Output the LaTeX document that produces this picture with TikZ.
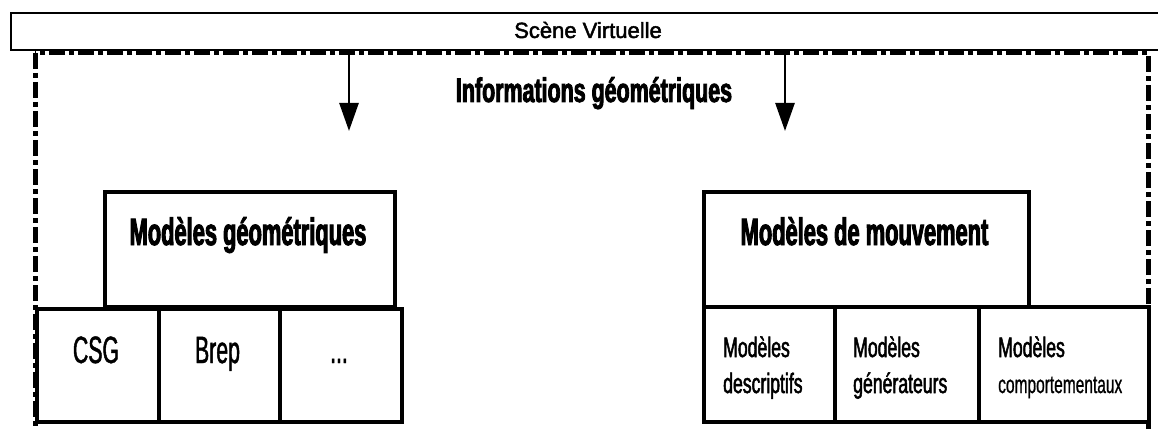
\documentclass[tikz,border=0pt]{standalone}
\usepackage{fontspec}
\setmainfont{Liberation Sans}
\newfontfamily\scenefont{Liberation Sans}[FakeBold=2]
\newfontfamily\headfont{Liberation Sans Bold}[FakeStretch=0.575, FakeBold=2.5]
\newfontfamily\infofont{Liberation Sans Bold}[FakeStretch=0.63, FakeBold=2.5]
\newfontfamily\leaffont{Liberation Sans}[FakeStretch=0.56, FakeBold=1.2]
\newfontfamily\subfont{Liberation Sans}[FakeStretch=0.63, FakeBold=1.8]
\newfontfamily\smallsubfont{Liberation Sans}[FakeStretch=0.62, FakeBold=0.8]
\usetikzlibrary{arrows.meta}
\tikzset{
  boxnode/.style={draw=black, fill=white, line width=4.2pt, inner sep=0pt, anchor=north west},
  topbox/.style={draw=black, fill=white, line width=2.4pt, inner sep=0pt, anchor=north west},
  framestyle/.style={line width=5pt, dash pattern=on 16pt off 4pt on 5pt off 4pt},
  arr/.style={line width=2.6pt, -{Triangle[width=19pt,length=28pt]}},
  headtxt/.style={anchor=base, inner sep=0pt, font=\headfont\fontsize{38}{40}\selectfont},
  infotxt/.style={anchor=base, inner sep=0pt, font=\infofont\fontsize{34}{36}\selectfont},
  leaftxt/.style={anchor=base, inner sep=0pt, font=\leaffont\fontsize{38}{40}\selectfont},
  subtxt/.style={anchor=base west, inner sep=0pt, font=\subfont\fontsize{28}{30}\selectfont},
  smallsubtxt/.style={anchor=base west, inner sep=0pt, font=\smallsubfont\fontsize{25}{27}\selectfont},
}
\begin{document}
\begin{tikzpicture}[x=1pt, y=-1pt]
\useasboundingbox (0,0) rectangle (1158,430);
% frame
\draw[framestyle] (35,53) rectangle (1148,434);
% top box
\node[topbox, minimum width=1165pt, minimum height=37pt] (scene) at (10,12) {};
\node[anchor=base, inner sep=0pt, font=\scenefont\fontsize{22}{24}\selectfont] (scenetxt) at (588,38) {Scène Virtuelle};
% arrows
\coordinate (a1s) at (349,54);
\coordinate (a1e) at (349,131);
\coordinate (a2s) at (785,54);
\coordinate (a2e) at (785,131);
\draw[arr] (a1s) -- (a1e);
\draw[arr] (a2s) -- (a2e);
\node[infotxt] (info) at (594,102) {Informations géométriques};
% left group
\node[boxnode, minimum width=290pt, minimum height=115pt] (geo) at (103,190) {};
\node[headtxt] (geotxt) at (248,245) {Modèles géométriques};
\node[boxnode, minimum width=122pt, minimum height=113pt] (csg) at (35,307) {};
\node[boxnode, minimum width=121pt, minimum height=113pt] (brep) at (157,307) {};
\node[boxnode, minimum width=122pt, minimum height=113pt] (dots) at (278,307) {};
\node[leaftxt] (csgtxt) at (96,363) {CSG};
\node[leaftxt] (breptxt) at (217.5,363) {Brep};
\node[leaftxt] (dotstxt) at (339,363) {...};
% right group
\node[boxnode, minimum width=325pt, minimum height=115pt] (mouv) at (702,190) {};
\node[headtxt] (mouvtxt) at (864.5,245) {Modèles de mouvement};
\node[boxnode, minimum width=131pt, minimum height=115pt] (desc) at (702,305) {};
\node[boxnode, minimum width=144pt, minimum height=115pt] (gen) at (833,305) {};
\node[boxnode, minimum width=170pt, minimum height=115pt] (comp) at (977,305) {};
\node[subtxt] (desc1) at (723,357) {Modèles};
\node[subtxt] (desc2) at (723,393) {descriptifs};
\node[subtxt] (gen1) at (853,357) {Modèles};
\node[subtxt] (gen2) at (853,393) {générateurs};
\node[subtxt] (comp1) at (998,357) {Modèles};
\node[smallsubtxt] (comp2) at (998,393) {comportementaux};
\end{tikzpicture}
\end{document}
